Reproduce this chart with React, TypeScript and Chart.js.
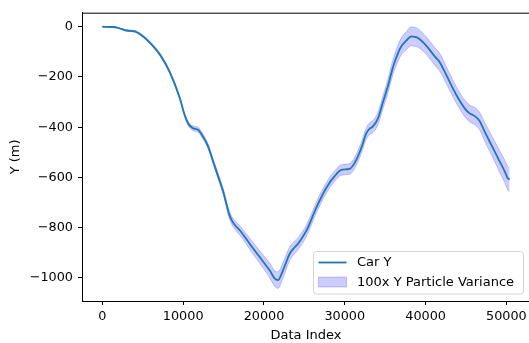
import React, { useEffect, useRef } from "react";
import { Chart, registerables } from "chart.js";

Chart.register(...registerables);

const dataIndex = [
  0, 1300, 2000, 3000, 4000, 4600, 5850, 7100, 8330, 9570, 10180, 10600, 11220, 11840, 12450, 13080,
  13700, 14110, 14930, 15750, 16160, 17200, 18230, 19470, 20700, 21320, 21730, 22350, 23180, 23800,
  24210, 25250, 26480, 27720, 28750, 29580, 30600, 31220, 32040, 32670, 33080, 33490, 34110, 34730,
  35350, 35970, 36590, 37000, 37620, 38240, 38650, 39070, 40100, 41130, 41750, 42570, 43810, 44840,
  45440, 46060, 46680, 47300, 47920, 48540, 49160, 49780, 50190, 50400,
];

const carY = [
  0, -1, -5, -15, -18, -28, -62, -110, -180, -283, -351, -384, -404, -410, -437, -476,
  -536, -575, -654, -752, -779, -818, -864, -917, -970, -1002, -1009, -970, -904, -878,
  -864, -812, -720, -641, -595, -570, -566, -542, -483, -424, -406, -397, -365, -300,
  -235, -160, -105, -78, -55, -38, -40, -45, -76, -118, -141, -193, -272, -325,
  -345, -355, -375, -417, -457, -496, -536, -575, -604, -608,
];

const yVariance = [
  0.01, 0.02, 0.02, 0.03, 0.04, 0.04, 0.05, 0.06, 0.06, 0.07, 0.07, 0.08, 0.09, 0.1, 0.1, 0.1,
  0.11, 0.12, 0.13, 0.15, 0.16, 0.19, 0.22, 0.25, 0.29, 0.31, 0.33, 0.31, 0.27, 0.25,
  0.24, 0.23, 0.22, 0.21, 0.21, 0.21, 0.21, 0.22, 0.22, 0.23, 0.24, 0.24, 0.25, 0.26,
  0.28, 0.3, 0.32, 0.34, 0.36, 0.38, 0.38, 0.37, 0.35, 0.35, 0.35, 0.34, 0.33, 0.33,
  0.33, 0.34, 0.35, 0.37, 0.39, 0.41, 0.43, 0.45, 0.46, 0.46,
];

const varianceScale = 100;
const xTickStep = 10000;
const yTickStep = 200;
const lineLabel = "Car Y";
const bandLabel = "100x Y Particle Variance";

const LINE_COLOR = "#1f77b4";
const BAND_COLOR = "rgba(0,0,255,0.2)";
const FONT = "'DejaVu Sans', sans-serif";

const fmt = (v: number) => (v < 0 ? "\u2212" + Math.abs(v) : String(v));

export default function App() {
  const ref = useRef<HTMLCanvasElement | null>(null);

  useEffect(() => {
    const canvas = ref.current;
    if (!canvas) return;

    const linePts = dataIndex.map((x, i) => ({ x, y: carY[i] }));
    const upper = dataIndex.map((x, i) => ({ x, y: carY[i] + varianceScale * yVariance[i] }));
    const lower = dataIndex.map((x, i) => ({ x, y: carY[i] - varianceScale * yVariance[i] }));

    const framePlugin = {
      id: "frame",
      afterDatasetsDraw(chart: any) {
        const { ctx, chartArea } = chart;
        ctx.save();
        ctx.strokeStyle = "#000";
        ctx.lineWidth = 1;
        ctx.strokeRect(chartArea.left + 0.5, chartArea.top + 0.5, chartArea.right - chartArea.left, chartArea.bottom - chartArea.top);
        ctx.restore();
      },
      afterDraw(chart: any) {
        const ctx = chart.ctx;
        ctx.save();
        const bx = 313.5, by = 251.5, bw = 210, bh = 42.5, r = 3;
        ctx.beginPath();
        ctx.moveTo(bx + r, by);
        ctx.lineTo(bx + bw - r, by);
        ctx.quadraticCurveTo(bx + bw, by, bx + bw, by + r);
        ctx.lineTo(bx + bw, by + bh - r);
        ctx.quadraticCurveTo(bx + bw, by + bh, bx + bw - r, by + bh);
        ctx.lineTo(bx + r, by + bh);
        ctx.quadraticCurveTo(bx, by + bh, bx, by + bh - r);
        ctx.lineTo(bx, by + r);
        ctx.quadraticCurveTo(bx, by, bx + r, by);
        ctx.closePath();
        ctx.fillStyle = "rgba(255,255,255,0.8)";
        ctx.fill();
        ctx.strokeStyle = "#d5d5d5";
        ctx.lineWidth = 1;
        ctx.stroke();
        ctx.strokeStyle = LINE_COLOR;
        ctx.lineWidth = 1.8;
        ctx.beginPath();
        ctx.moveTo(318.5, 262.5);
        ctx.lineTo(346.5, 262.5);
        ctx.stroke();
        ctx.fillStyle = BAND_COLOR;
        ctx.fillRect(318.5, 277, 28, 10);
        ctx.strokeStyle = BAND_COLOR;
        ctx.lineWidth = 1;
        ctx.strokeRect(318.5, 277, 28, 10);
        ctx.fillStyle = "#000";
        ctx.font = `13px ${FONT}`;
        ctx.textBaseline = "middle";
        ctx.textAlign = "left";
        ctx.fillText(lineLabel, 357, 262.5);
        ctx.fillText(bandLabel, 357, 282.5);
        ctx.restore();
      },
    };

    const chart = new Chart(canvas, {
      type: "line",
      data: {
        datasets: [
          {
            label: lineLabel,
            data: linePts,
            borderColor: LINE_COLOR,
            borderWidth: 1.8,
            pointRadius: 0,
            fill: false,
            cubicInterpolationMode: "monotone",
          },
          {
            label: bandLabel + " upper",
            data: upper,
            borderColor: BAND_COLOR,
            borderWidth: 1,
            pointRadius: 0,
            fill: false,
            cubicInterpolationMode: "monotone",
          },
          {
            label: bandLabel,
            data: lower,
            borderColor: BAND_COLOR,
            borderWidth: 1,
            backgroundColor: BAND_COLOR,
            pointRadius: 0,
            fill: "-1",
            cubicInterpolationMode: "monotone",
          },
        ],
      },
      options: {
        animation: false,
        responsive: false,
        maintainAspectRatio: false,
        devicePixelRatio: 1,
        layout: { padding: { top: 10, right: 2, left: 0, bottom: 0 } },
        plugins: { legend: { display: false }, tooltip: { enabled: false } },
        scales: {
          x: {
            type: "linear",
            min: -2520,
            max: 52920,
            afterBuildTicks(scale: any) {
              const t = [];
              for (let v = 0; v <= 50000; v += xTickStep) t.push({ value: v });
              scale.ticks = t;
            },
            afterFit(scale: any) {
              scale.height = 42;
            },
            grid: { drawOnChartArea: false, tickLength: 4, color: "#000", tickColor: "#000" },
            border: { display: true, color: "#000", width: 1 },
            ticks: {
              color: "#000",
              font: { family: FONT, size: 12.8 },
              padding: 4,
              maxRotation: 0,
              autoSkip: false,
              callback: (v: any) => fmt(Number(v)),
            },
            title: {
              display: true,
              text: "Data Index",
              color: "#000",
              font: { family: FONT, size: 13 },
              padding: { top: 0, bottom: 0 },
            },
          },
          y: {
            type: "linear",
            min: -1092,
            max: 56,
            afterBuildTicks(scale: any) {
              const t = [];
              for (let v = -1000; v <= 0; v += yTickStep) t.push({ value: v });
              scale.ticks = t;
            },
            afterFit(scale: any) {
              scale.width = 82;
            },
            grid: { drawOnChartArea: false, tickLength: 4, color: "#000", tickColor: "#000" },
            border: { display: true, color: "#000", width: 1 },
            ticks: {
              color: "#000",
              font: { family: FONT, size: 12.8 },
              padding: 5,
              autoSkip: false,
              callback: (v: any) => fmt(Number(v)),
            },
            title: {
              display: true,
              text: "Y (m)",
              color: "#000",
              font: { family: FONT, size: 13 },
              padding: { top: 8, bottom: 0 },
            },
          },
        },
      },
      plugins: [framePlugin],
    } as any);

    return () => chart.destroy();
  }, []);

  return (
    <div style={{ position: "fixed", left: 0, top: 0, width: 529, height: 343, overflow: "hidden", background: "#fff" }}>
      <canvas ref={ref} width={532} height={343} style={{ display: "block", width: 532, height: 343 }} />
    </div>
  );
}
